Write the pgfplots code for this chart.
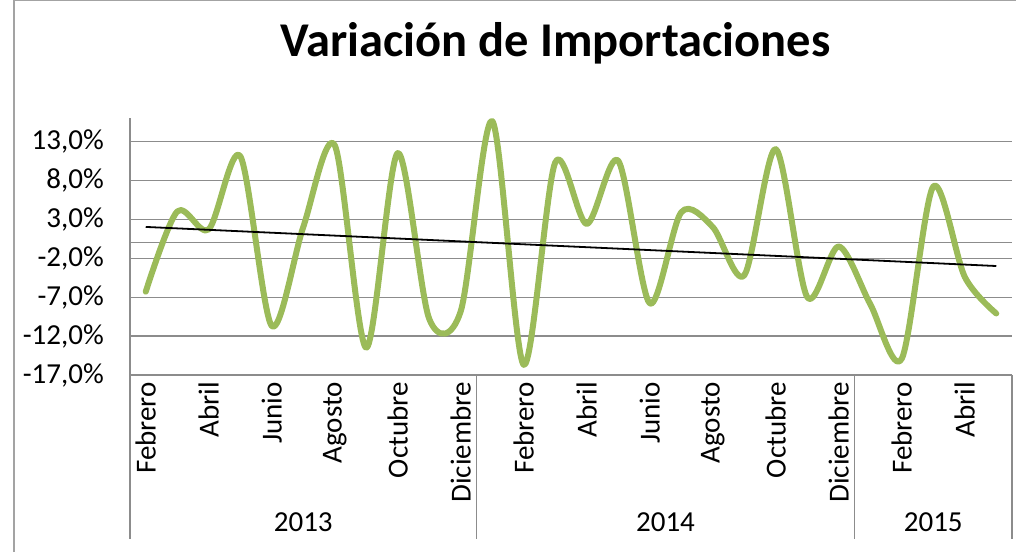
\documentclass[border=0pt]{standalone}
\usepackage{fontspec}
\setmainfont{Carlito}
\usepackage{pgfplots}
\pgfplotsset{compat=1.18}
\usepackage{pgfplotstable}
\definecolor{exgreen}{HTML}{9BBB59}
\definecolor{gridgray}{HTML}{8C8C8C}

\pgfplotstableread{
x y
0 -6.3
1 4.0
2 1.7
3 11.1
4 -10.7
5 2.0
6 12.5
7 -13.5
8 11.5
9 -9.8
10 -8.8
11 15.6
12 -15.7
13 10.3
14 2.4
15 10.5
16 -7.8
17 3.9
18 2.0
19 -4.2
20 12.0
21 -7.0
22 -0.5
23 -7.9
24 -14.9
25 7.2
26 -4.4
27 -9.1
}\datatable

\begin{document}
\begin{tikzpicture}[x=1pt,y=1pt]
\useasboundingbox (0,0) rectangle (1016,552);
\draw[gridgray!80, line width=1.2pt] (14,0) -- (14,551.2) -- (1016,551.2);
\node[anchor=base, font=\fontsize{48.5}{52}\selectfont\bfseries] at (555.5,495) {Variación de Importaciones};
\begin{axis}[
  at={(130pt,177pt)}, anchor=south west,
  width=882pt, height=257pt, scale only axis,
  xmin=-0.5, xmax=27.5, ymin=-17, ymax=16,
  axis line style={draw=none},
  clip=false,
  major tick length=0pt,
  ytick={-17,-12,-7,-2,3,8,13},
  yticklabels={{-17,0\%},{-12,0\%},{-7,0\%},{-2,0\%},{3,0\%},{8,0\%},{13,0\%}},
  ymajorgrids,
  grid style={gridgray, line width=1.2pt},
  xtick={0,2,...,26},
  xticklabels={Febrero,Abril,Junio,Agosto,Octubre,Diciembre,Febrero,Abril,Junio,Agosto,Octubre,Diciembre,Febrero,Abril},
  ticklabel style={font=\fontsize{29}{34}\selectfont},
  xticklabel style={rotate=90, anchor=east, inner sep=0pt, xshift=-7pt},
  yticklabel style={anchor=east, inner sep=0pt, xshift=-26pt},
]
\draw[gridgray, line width=1.2pt] (axis cs:-0.5,0) -- (axis cs:27.5,0);
\draw[gridgray, line width=1.2pt] (axis cs:-0.5,16) -- (axis cs:-0.5,-17) -- ++(0pt,-164pt);
\draw[gridgray, line width=1.2pt] (axis cs:10.5,-17) -- ++(0pt,-164pt);
\draw[gridgray, line width=1.2pt] (axis cs:22.5,-17) -- ++(0pt,-164pt);
\draw[gridgray, line width=1.2pt] (axis cs:27.5,-17) -- ++(0pt,-164pt);
\node[font=\fontsize{29}{34}\selectfont] at ([yshift=-147pt]axis cs:5,-17) {2013};
\node[font=\fontsize{29}{34}\selectfont] at ([yshift=-147pt]axis cs:16.5,-17) {2014};
\node[font=\fontsize{29}{34}\selectfont] at ([yshift=-147pt]axis cs:25,-17) {2015};
\addplot[exgreen, line width=6pt, smooth, tension=0.5, line cap=round, line join=round, no markers] table[x=x, y=y] {\datatable};
\addplot[black, line width=1.8pt, no markers] table[x=x, y={create col/linear regression={y=y}}] {\datatable};
\end{axis}
\end{tikzpicture}
\end{document}
